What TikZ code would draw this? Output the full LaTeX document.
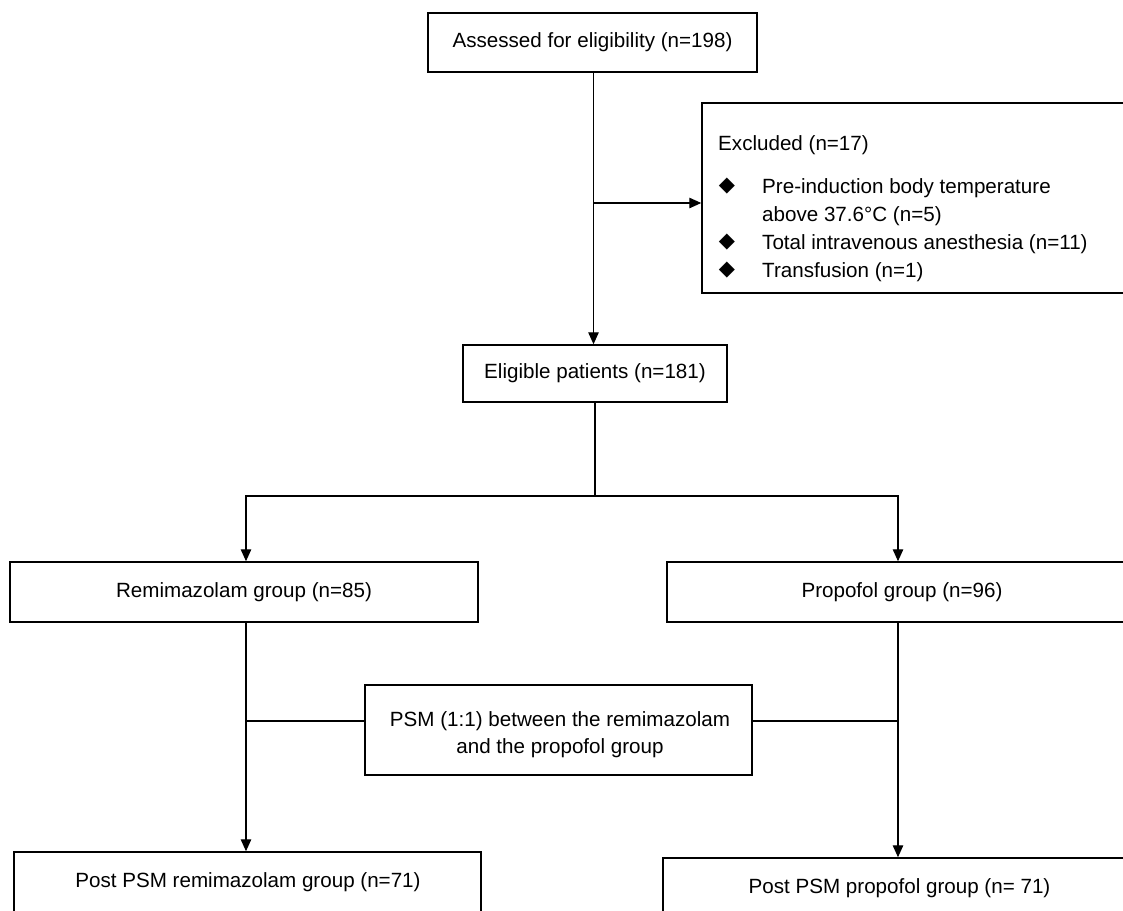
\documentclass[tikz,border=0pt]{standalone}
\usepackage{fontspec}
\setmainfont{Liberation Sans}
\newfontfamily\symfont{DejaVu Sans}
\usetikzlibrary{arrows.meta}
\begin{document}
\begin{tikzpicture}[x=1pt,y=-1pt,
  box/.style={draw, line width=1.5pt, rectangle, inner sep=0pt, font=\fontsize{20.6}{21}\selectfont},
  txt/.style={inner sep=0pt, font=\fontsize{20.6}{21}\selectfont},
  bul/.style={inner sep=0pt, font=\symfont\fontsize{21}{21}\selectfont},
  conn/.style={line width=1.3pt},
  arr/.style={conn, -{Triangle[length=12pt,width=10.5pt]}}]
\useasboundingbox (0,0) rectangle (1123,910);
\clip (0,0) rectangle (1123,910);
\fill[white] (0,0) rectangle (1123,910);

% boxes
\node[box, minimum width=329pt, minimum height=59pt] (top) at (592.5,42.5) {Assessed for eligibility (n=198)};
\node[box, minimum width=433pt, minimum height=190pt] (excl) at (918.5,198) {};
\node[box, minimum width=264pt, minimum height=57pt] (elig) at (595,373.5) {Eligible patients (n=181)};
\node[box, minimum width=468pt, minimum height=60pt] (remi) at (244,592) {Remimazolam group (n=85)};
\node[box, minimum width=470pt, minimum height=60pt] (prop) at (902,592) {Propofol group (n=96)};
\node[box, minimum width=387pt, minimum height=90pt] (psm) at (558.5,730) {};
\node[box, minimum width=467pt, minimum height=88pt] (postL) at (247.5,896) {};
\node[box, minimum width=472pt, minimum height=82pt] (postR) at (899,899) {};

% texts inside boxes
\node[txt, anchor=base west] (ex0) at (718,150.7) {Excluded (n=17)};
\node[bul] (b1) at (727,186) {◆};
\node[txt, anchor=base west] (ex1) at (762,193.5) {Pre-induction body temperature};
\node[txt, anchor=base west] (ex2) at (762,221.5) {above 37.6°C (n=5)};
\node[bul] (b2) at (727,242) {◆};
\node[txt, anchor=base west] (ex3) at (762,249.5) {Total intravenous anesthesia (n=11)};
\node[bul] (b3) at (727,270) {◆};
\node[txt, anchor=base west] (ex4) at (762,277.5) {Transfusion (n=1)};
\node[txt, anchor=base] (ps1) at (560,726) {PSM (1:1) between the remimazolam};
\node[txt, anchor=base] (ps2) at (560,753) {and the propofol group};
\node[txt, anchor=base] (pl) at (248,887.5) {Post PSM remimazolam group (n=71)};
\node[txt, anchor=base] (pr) at (899.5,893) {Post PSM propofol group (n= 71)};

% connectors
\coordinate (j1) at (593.5,203);
\coordinate (split) at (595,496);
\coordinate (rx) at (898,0);
\coordinate (lx) at (246,0);
\coordinate (m) at (0,721);
\draw[arr] (top.south -| j1) -- (elig.north -| j1);
\draw[arr] (j1) -- (j1 -| excl.west);
\draw[conn] (elig.south -| split) -- (split);
\draw[arr] (split) -| (remi.north -| lx);
\draw[arr] (split) -| (prop.north -| rx);
\draw[arr] (remi.south -| lx) -- (postL.north -| lx);
\draw[arr] (prop.south -| rx) -- (postR.north -| rx);
\draw[conn] (m -| lx) -- (m -| psm.west);
\draw[conn] (m -| psm.east) -- (m -| rx);
\end{tikzpicture}
\end{document}
